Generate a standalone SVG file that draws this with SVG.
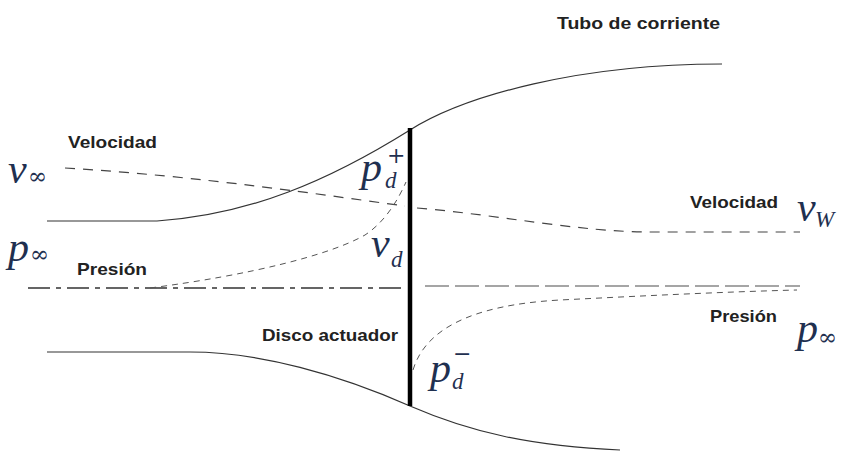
<svg xmlns="http://www.w3.org/2000/svg" width="842" height="451" viewBox="0 0 842 451">
<style>
.lbl{font-family:"Liberation Sans",Arial,sans-serif;font-weight:bold;font-size:17px;fill:#222}
.m{font-family:"Liberation Serif","Times New Roman",serif;font-style:italic;fill:#1f3050}
.inf{font-family:"DejaVu Serif",serif;font-style:normal}
.tube{fill:none;stroke:#333;stroke-width:1.2}
.dash{fill:none;stroke:#444;stroke-width:1.2;stroke-dasharray:10 8}
.fine{fill:none;stroke:#555;stroke-width:1;stroke-dasharray:6 5}
</style>
<rect width="842" height="451" fill="#fff"/>
<g id="connectors">
<path id="tube-upper" class="tube" d="M47,221 L157,221 C250,215 330,180 410,130 C466,95 580,64 722,64"/>
<path id="tube-lower" class="tube" d="M47,352 L190,352 C260,352 340,375 410,406 C470,432 530,446 620,450"/>
<path id="vel-left" class="dash" d="M65,168 C200,176 330,196 405,206"/>
<path id="vel-right" class="dash" d="M417,208 C500,215 580,232 650,232 L800,232"/>
<path id="axis-left" fill="none" stroke="#333" stroke-width="1.3" stroke-dasharray="22 6 5 6" d="M28,288 L405,288"/>
<path id="axis-right" fill="none" stroke="#888" stroke-width="1.3" stroke-dasharray="24 6" d="M425,286 L800,286"/>
<path id="pres-left" class="fine" d="M150,288 C250,275 330,255 365,235 C385,222 398,200 406,182"/>
<path id="pres-right" class="fine" d="M413,370 C425,330 470,305 560,300 C640,296 720,292 797,290"/>
</g>
<g id="disc">
<line x1="410" y1="128" x2="410" y2="406" stroke="#000" stroke-width="4.5"/>
<text class="lbl" x="262" y="341" textLength="136" lengthAdjust="spacingAndGlyphs">Disco actuador</text>
</g>
<g id="tube-label"><text class="lbl" x="557" y="29" textLength="163" lengthAdjust="spacingAndGlyphs">Tubo de corriente</text></g>
<g id="vel-label-left"><text class="lbl" x="68" y="148" textLength="89" lengthAdjust="spacingAndGlyphs">Velocidad</text></g>
<g id="pres-label-left"><text class="lbl" x="77" y="275" textLength="70" lengthAdjust="spacingAndGlyphs">Presión</text></g>
<g id="vel-label-right"><text class="lbl" x="690" y="208" textLength="88" lengthAdjust="spacingAndGlyphs">Velocidad</text></g>
<g id="pres-label-right"><text class="lbl" x="710" y="322" textLength="67" lengthAdjust="spacingAndGlyphs">Presión</text></g>
<g id="v-inf-left"><text class="m"><tspan x="8" y="183" font-size="42">v</tspan><tspan class="inf" x="28" y="184" font-size="23">∞</tspan></text></g>
<g id="p-inf-left"><text class="m"><tspan x="8" y="261" font-size="42">p</tspan><tspan class="inf" x="30" y="262" font-size="23">∞</tspan></text></g>
<g id="p-d-plus"><text class="m"><tspan x="361" y="181" font-size="42">p</tspan><tspan x="385" y="188" font-size="23">d</tspan><tspan class="inf" x="387" y="163" font-size="22">+</tspan></text></g>
<g id="v-d"><text class="m"><tspan x="371" y="257" font-size="42">v</tspan><tspan x="391" y="267" font-size="23">d</tspan></text></g>
<g id="v-w"><text class="m"><tspan x="797" y="221" font-size="42">v</tspan><tspan x="815" y="227" font-size="23">W</tspan></text></g>
<g id="p-inf-right"><text class="m"><tspan x="797" y="342" font-size="42">p</tspan><tspan class="inf" x="818" y="345" font-size="23">∞</tspan></text></g>
<g id="p-d-minus"><text class="m"><tspan x="430" y="382" font-size="42">p</tspan><tspan x="452" y="389" font-size="23">d</tspan><tspan class="inf" x="453" y="361" font-size="22">−</tspan></text></g>
</svg>
